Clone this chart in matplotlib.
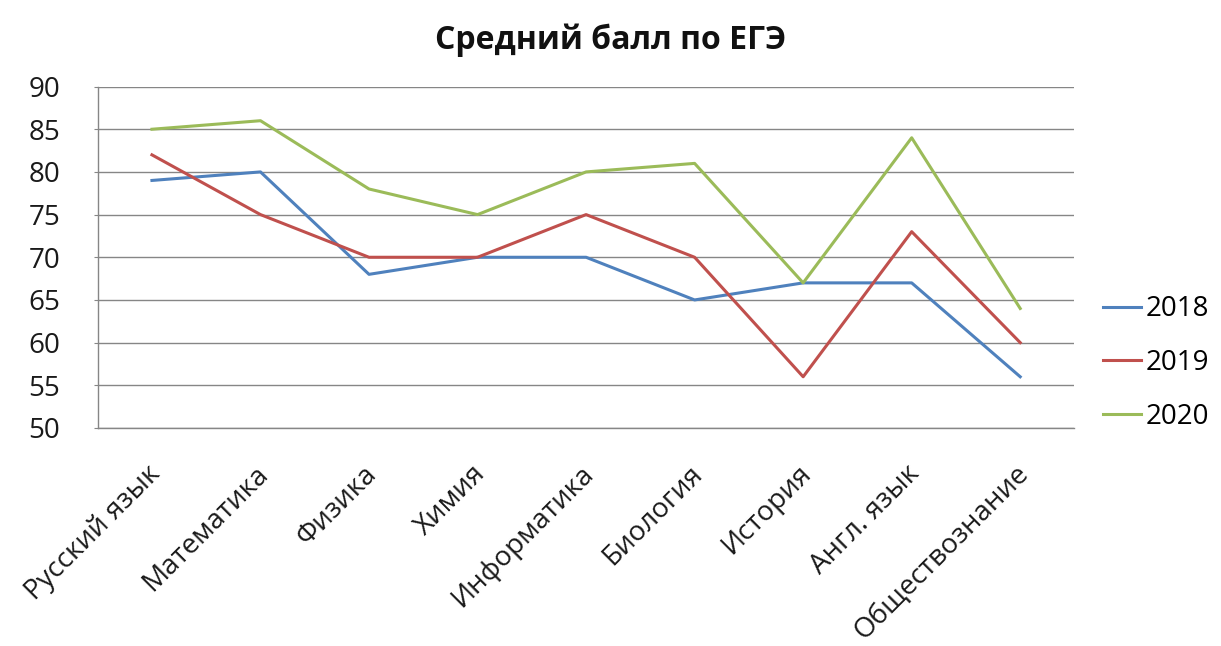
import matplotlib
matplotlib.use("Agg")
import matplotlib.pyplot as plt
import matplotlib.transforms as mtransforms

plt.rcParams['font.family'] = ['Open Sans', 'DejaVu Sans']

# Data
subjects = ['Русский язык', 'Математика', 'Физика', 'Химия', 'Информатика',
            'Биология', 'История', 'Англ. язык', 'Обществознание']
years = ['2018', '2019', '2020']
scores_2018 = [79, 80, 68, 70, 70, 65, 67, 67, 56]
scores_2019 = [82, 75, 70, 70, 75, 70, 56, 73, 60]
scores_2020 = [85, 86, 78, 75, 80, 81, 67, 84, 64]
y_ticks = [50, 55, 60, 65, 70, 75, 80, 85, 90]

colors = ['#4F81BD', '#C0504D', '#9BBB59']

fig = plt.figure(figsize=(12.21, 6.46), dpi=100)
ax = fig.add_axes([0.080, 0.3375, 0.800, 0.5285])

x = list(range(len(subjects)))
for label, vals, c in zip(years, [scores_2018, scores_2019, scores_2020], colors):
    ax.plot(x, vals, color=c, linewidth=2.2, label=label)

ax.set_xlim(-0.5, len(subjects) - 0.5)
ax.set_ylim(50, 90)
ax.set_yticks(y_ticks)
ax.yaxis.grid(True, color='#868686', linewidth=1.0)
ax.set_axisbelow(True)

for s in ['top', 'right']:
    ax.spines[s].set_visible(False)
for s in ['left', 'bottom']:
    ax.spines[s].set_color('#868686')
    ax.spines[s].set_linewidth(1.0)

ax.tick_params(axis='y', length=3, color='#868686', pad=24, labelsize=20,
               labelcolor='#1a1a1a')
ax.tick_params(axis='x', length=0, pad=0)

ax.set_xticks(x)
ax.set_xticklabels(subjects, rotation=45, ha='right', va='top',
                   rotation_mode='anchor', fontsize=20, color='#1a1a1a')
shift = mtransforms.ScaledTranslation(-6 / 100, -32 / 100, fig.dpi_scale_trans)
for lbl in ax.get_xticklabels():
    lbl.set_transform(lbl.get_transform() + shift)

fig.text(0.5, 0.938, 'Средний балл по ЕГЭ', ha='center', va='center',
         fontsize=23, fontweight='bold', color='#111111')

fig.legend(loc='center left', bbox_to_anchor=(0.903, 0.438), frameon=False,
           fontsize=20, handlelength=1.4, handletextpad=0.15,
           labelspacing=0.92, borderpad=0, borderaxespad=0)

fig.savefig('out.png', dpi=100)
